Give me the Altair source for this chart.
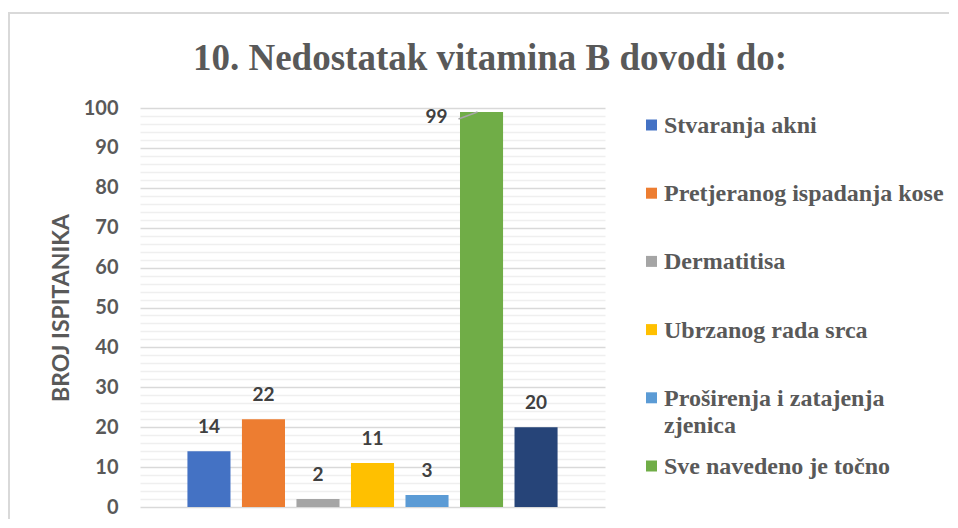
import altair as alt
import pandas as pd

title_text = "10. Nedostatak vitamina B dovodi do:"
categories = [
    "Stvaranja akni",
    "Pretjeranog ispadanja kose",
    "Dermatitisa",
    "Ubrzanog rada srca",
    "Proširenja i zatajenja zjenica",
    "Sve navedeno je točno",
    "Ništa od navedenog",
]
values = [14, 22, 2, 11, 3, 99, 20]
colors = ["#4472C4", "#ED7D31", "#A5A5A5", "#FFC000", "#5B9BD5", "#70AD47", "#264478"]
legend_shown = categories[:6]
legend_labels = [
    "Stvaranja akni",
    "Pretjeranog ispadanja kose",
    "Dermatitisa",
    "Ubrzanog rada srca",
    "Proširenja i zatajenja\nzjenica",
    "Sve navedeno je točno",
]
y_ticks = list(range(0, 101, 2))

df = pd.DataFrame({"kategorija": categories, "broj": values})
leg_df = pd.DataFrame({"kategorija": legend_shown, "oznaka": legend_labels})
one = pd.DataFrame({"naslov": [title_text]})

x_enc = alt.X("kategorija:N", sort=categories, axis=None,
              scale=alt.Scale(paddingInner=0.21, paddingOuter=0.87))
y_scale = alt.Scale(domain=[0, 100], nice=False)
y_axis = alt.Axis(
    title="BROJ ISPITANIKA",
    values=y_ticks,
    labelExpr="datum.value % 10 == 0 ? datum.label : ''",
    labelOverlap=False,
    domain=False, ticks=False, tickSize=0,
    gridColor={"condition": {"test": "datum.value % 10 == 0", "value": "#d9d9d9"}, "value": "#efefef"},
    gridWidth=1.5,
    labelFont="Lato", labelFontSize=20, labelFontWeight="bold", labelColor="#595959",
    labelPadding=22,
    titleFont="Lato", titleFontSize=23, titleFontWeight="bold", titleColor="#595959",
    titlePadding=10,
)
y_enc = alt.Y("broj:Q", scale=y_scale, axis=y_axis)

base = alt.Chart(df)

frame_top = alt.Chart(one).mark_rule(stroke="#d9d9d9", strokeWidth=2).encode(
    x=alt.value(-131), x2=alt.value(809), y=alt.value(-95)
)
frame_left = alt.Chart(one).mark_rule(stroke="#d9d9d9", strokeWidth=2).encode(
    x=alt.value(-131), y=alt.value(-96), y2=alt.value(411)
)

title = alt.Chart(one).mark_text(
    font="Liberation Serif", fontSize=37, fontWeight="bold", color="#595959",
    align="center", baseline="alphabetic"
).encode(x=alt.value(350), y=alt.value(-38), text="naslov:N")

bars = base.mark_bar().encode(
    x=x_enc,
    y=y_enc,
    color=alt.Color("kategorija:N", sort=categories,
                    scale=alt.Scale(domain=categories, range=colors),
                    legend=None),
)

labels = base.mark_text(font="Lato", fontSize=19, fontWeight="bold", color="#404040",
                        baseline="middle", dy=-24).encode(
    x=alt.X("kategorija:N", sort=categories),
    y=y_enc,
    text="broj:Q",
).transform_filter("datum.broj < 90")

label_max = base.mark_text(font="Lato", fontSize=19, fontWeight="bold", color="#404040",
                           baseline="middle", dx=-45, dy=5).encode(
    x=alt.X("kategorija:N", sort=categories),
    y=y_enc,
    text="broj:Q",
).transform_filter("datum.broj >= 90")

leader = base.mark_rule(color="#a6a6a6", strokeWidth=1.5,
                        xOffset=-23, x2Offset=-4, yOffset=7, y2Offset=0).encode(
    x=alt.X("kategorija:N", sort=categories),
    x2=alt.X2("kategorija:N"),
    y=y_enc,
    y2=alt.Y2("broj:Q"),
).transform_filter("datum.broj >= 90")

plot_layer = alt.layer(bars, labels, label_max, leader)

leg_y = alt.Y("kategorija:N", sort=legend_shown, axis=None,
              scale=alt.Scale(type="point", domain=legend_shown, range=[17, 358], padding=0))

leg_sym = alt.Chart(leg_df).mark_square(size=121, opacity=1).encode(
    x=alt.value(511.5),
    y=leg_y,
    color=alt.Color("kategorija:N", scale=alt.Scale(domain=categories, range=colors), legend=None),
)

leg_txt = alt.Chart(leg_df).mark_text(
    font="Liberation Serif", fontSize=24, fontWeight="bold", color="#595959",
    align="left", baseline="alphabetic", dy=8, lineBreak="\n", lineHeight=27,
).encode(
    x=alt.value(524),
    y=leg_y,
    text="oznaka:N",
)

legend_layer = alt.layer(leg_sym, leg_txt)

chart = alt.layer(frame_top, frame_left, title, plot_layer, legend_layer).resolve_scale(
    y="independent"
).properties(
    width=465, height=399,
    autosize=alt.AutoSizeParams(type="none"),
    padding={"left": 132, "top": 100, "right": 345, "bottom": 13},
).configure_view(stroke=None)

chart.save("out.html", embed_options={"renderer": "svg", "actions": False})
